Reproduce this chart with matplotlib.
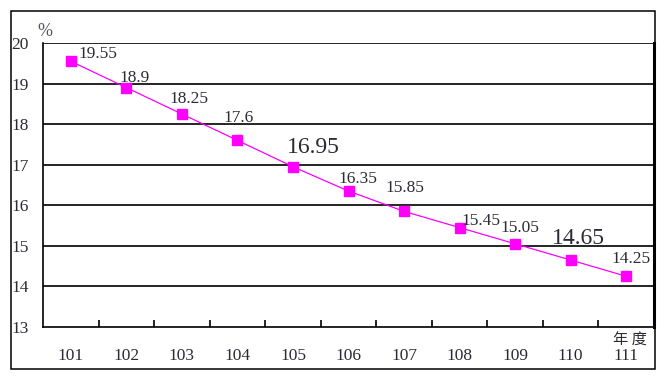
import matplotlib
matplotlib.use('Agg')
import matplotlib.pyplot as plt
from matplotlib.patches import Rectangle
import numpy as np

# -------- Data --------
years = ['101', '102', '103', '104', '105', '106', '107', '108', '109', '110', '111']
values = [19.55, 18.9, 18.25, 17.6, 16.95, 16.35, 15.85, 15.45, 15.05, 14.65, 14.25]
value_labels = ['19.55', '18.9', '18.25', '17.6', '16.95', '16.35', '15.85', '15.45', '15.05', '14.65', '14.25']
highlight = ['105', '110']

# label offsets from each marker, in pixels (right, up)
label_offsets = [(27, 7), (8, 10), (7, 15), (1, 22), (20, 19), (9, 12), (1, 23), (21, 7), (5, 16), (8, 22), (5, 17)]

txt_color = '#2b2b36'
serif = ['Liberation Serif', 'DejaVu Serif']
px = 0.72  # points per pixel at 100 dpi

fig = plt.figure(figsize=(6.72, 3.80), dpi=100)
ax = fig.add_axes([43 / 672, 53 / 380, 611 / 672, 284 / 380])

x = np.arange(len(years))
ax.plot(x, values, color='#FF00FF', lw=0.9, marker='s', ms=7, mec='#FF00FF', mfc='#FF00FF', zorder=4)

for i, (v, lab) in enumerate(zip(values, value_labels)):
    big = years[i] in highlight
    dx, dy = label_offsets[i]
    ax.annotate(lab, xy=(x[i], v), xytext=(dx * px, dy * px), textcoords='offset points',
                ha='center', va='center', fontsize=17 if big else 12.5,
                family=serif, color=txt_color, zorder=5)

ax.set_xlim(-0.5, len(years) - 0.5)
ax.set_ylim(13, 20)

# horizontal gridlines
for yv in range(14, 21):
    ax.axhline(yv, color='black', lw=1.2, zorder=2)

ax.set_yticks(range(13, 21))
ax.set_yticklabels([str(v) for v in range(13, 21)], fontsize=12.5, family=serif, color=txt_color)
ax.tick_params(axis='y', length=0, pad=10)

# category boundary ticks on x axis
ax.set_xticks(np.arange(0.5, len(years) - 1, 1))
ax.set_xticklabels([])
ax.tick_params(axis='x', direction='in', length=5, width=1.2, color='black')
for i, yr in enumerate(years):
    ax.text(x[i], -29 / 284, yr, transform=ax.get_xaxis_transform(), ha='center', va='center',
            fontsize=12.5, family=serif, color=txt_color)

for s in ['left', 'bottom']:
    ax.spines[s].set_linewidth(1.2)
ax.spines['top'].set_visible(False)
ax.spines['right'].set_linewidth(2.2)

fig.text(45 / 672, 1 - 31 / 380, '%', ha='center', va='center', fontsize=13, family=serif, color='#555566')
fig.text(630 / 672, 1 - 340 / 380, '年 度', ha='center', va='center', fontsize=11,
         family=['Noto Sans CJK TC', 'DejaVu Sans'], color=txt_color)

fig.patches.append(Rectangle((11 / 672, 11 / 380), 644 / 672, 358 / 380, transform=fig.transFigure,
                             fill=False, ec='black', lw=1.1))

fig.savefig('out.png', dpi=100)
